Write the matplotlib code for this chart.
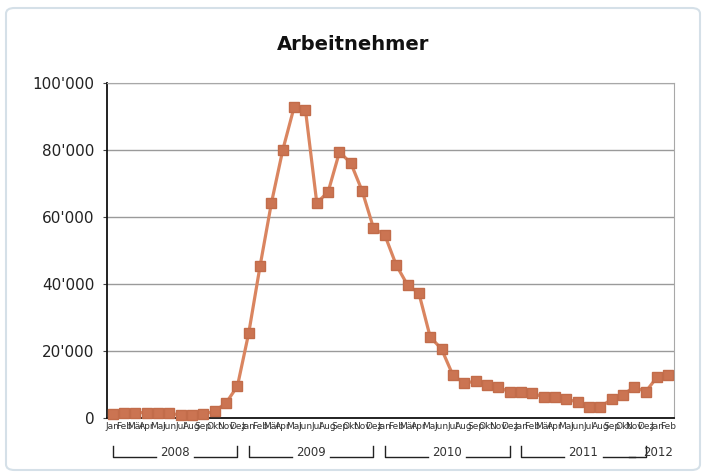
import matplotlib
matplotlib.use("Agg")
import matplotlib.pyplot as plt
from matplotlib.patches import FancyBboxPatch
from matplotlib.ticker import FuncFormatter
from matplotlib.transforms import blended_transform_factory

months = ["Jan", "Feb", "Mär", "Apr", "Mai", "Jun", "Jul", "Aug", "Sep", "Okt", "Nov", "Dez"]
years = ["2008", "2009", "2010", "2011", "2012"]
months_per_year = [12, 12, 12, 12, 2]

values = [
    1200, 1500, 1600, 1600, 1500, 1400, 900, 800, 1200, 2000, 4500, 9500,
    25400, 45400, 64200, 80000, 92800, 92000, 64200, 67500, 79400, 76100, 67800, 56700,
    54600, 45700, 39700, 37300, 24200, 20600, 12800, 10400, 11000, 9800, 9200, 7800,
    7800, 7400, 6300, 6300, 5600, 4800, 3300, 3300, 5600, 6900, 9300, 7800,
    12200, 12800,
]

tick_labels = []
for n in months_per_year:
    tick_labels += months[:n]
x = list(range(len(values)))

W, H = 706, 476
fig = plt.figure(figsize=(W / 100, H / 100), dpi=100)
fig.patch.set_facecolor("white")

# rounded frame around the whole chart
frame = FancyBboxPatch((6 / W, 6 / H), 694 / W, 462 / H,
                       boxstyle="round,pad=0,rounding_size=0.012",
                       transform=fig.transFigure, facecolor="white",
                       edgecolor="#D5E0E8", linewidth=1.5, zorder=-10)
fig.patches.append(frame)

ax = fig.add_axes([107 / W, 1 - 418 / H, (674 - 107) / W, (418 - 83) / H])
ax.set_facecolor("white")
ax.plot(x, values, color="#DA8560", linewidth=2.3, marker="s", markersize=6.5,
        markerfacecolor="#CB7452", markeredgecolor="#C26C4A", zorder=3, clip_on=False)

ax.set_xlim(-0.5, len(values) - 0.5)
ax.set_ylim(0, 100000)
ax.set_yticks(range(0, 100001, 20000))
ax.yaxis.set_major_formatter(FuncFormatter(lambda v, p: f"{int(v):,}".replace(",", "'")))
ax.tick_params(axis="y", labelsize=11, length=3, color="#444444", pad=6, labelcolor="#222222")
ax.grid(axis="y", color="#9A9A9A", linewidth=1)
ax.set_axisbelow(True)

ax.set_xticks(x)
ax.set_xticklabels(tick_labels, fontsize=6.5, color="#333333",
                   family=["Liberation Sans Narrow", "DejaVu Sans"])
ax.tick_params(axis="x", length=0, pad=3)

for side in ["top", "right"]:
    ax.spines[side].set_color("#A8A8A8")
for side in ["left", "bottom"]:
    ax.spines[side].set_color("#111111")
    ax.spines[side].set_linewidth(1.3)

fig.text(0.5, 1 - 45 / H, "Arbeitnehmer", ha="center", va="center",
         fontsize=14, fontweight="bold", color="#111111")

# year brackets under the month labels
trans = blended_transform_factory(ax.transData, fig.transFigure)
y_top = 1 - 446 / H
y_bot = 1 - 457 / H
y_txt = 1 - 452 / H
start = 0
for yr, n in zip(years, months_per_year):
    a, b = start, start + n - 1
    mid = (a + b) / 2
    half_gap = 1.7
    if n > 2:
        ax.plot([a, a, mid - half_gap], [y_top, y_bot, y_bot], color="#222222",
                linewidth=1, transform=trans, clip_on=False)
        ax.plot([mid + half_gap, b, b], [y_bot, y_bot, y_top], color="#222222",
                linewidth=1, transform=trans, clip_on=False)
        fig.text(mid, y_txt, yr, transform=trans, ha="center", va="center",
                 fontsize=8.5, color="#333333")
    else:
        ax.plot([a - 2.5, b - 2.9], [y_bot, y_bot], color="#222222",
                linewidth=1, transform=trans, clip_on=False)
        fig.text(b + 0.4, y_txt, yr, transform=trans, ha="right", va="center",
                 fontsize=8.5, color="#333333")
    start += n

fig.savefig("out.png", dpi=100)
